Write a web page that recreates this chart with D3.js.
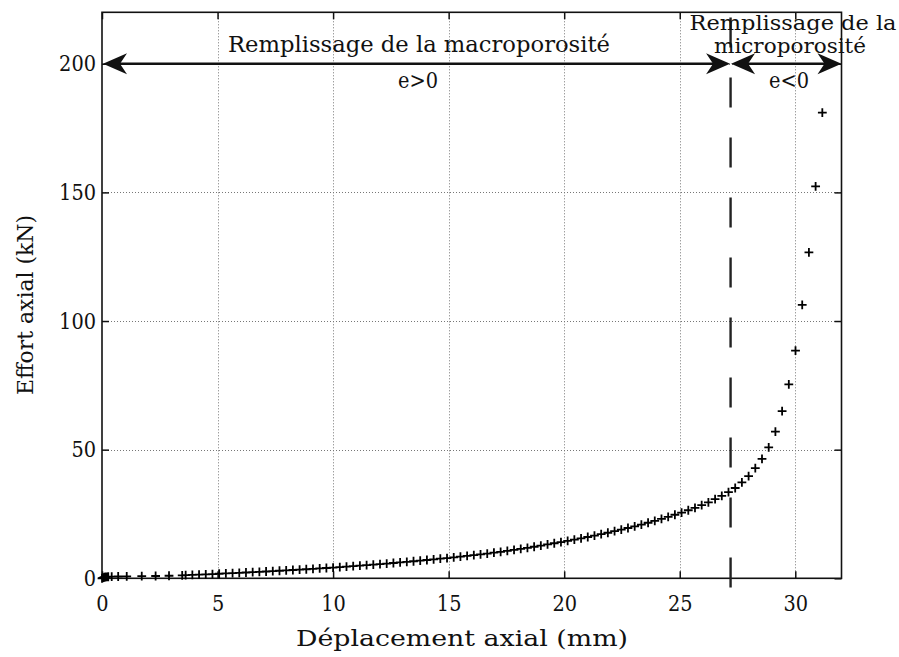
<!DOCTYPE html>
<html>
<head>
<meta charset="utf-8">
<script src="https://cdn.jsdelivr.net/npm/d3@7"></script>
<style>
  html, body { margin: 0; padding: 0; background: #fff; }
  svg { display: block; }
  svg text { font-family: 'DejaVu Serif', 'Liberation Serif', serif; fill: #111; }
</style>
</head>
<body>
<svg id="chart" width="899" height="657"></svg>
<script>
// ---- data ----
const xTicks = [0, 5, 10, 15, 20, 25, 30];
const yTicks = [0, 50, 100, 150, 200];
const xTitle = "Déplacement axial (mm)";
const yTitle = "Effort axial (kN)";
const limitDisplacement = 27.2;   // boundary macro/micro porosity
const arrowForce = 200;

const displacement = [
  0, 0.03, 0.06, 0.10, 0.15, 0.20, 0.27, 0.42, 0.70, 1.07, 1.72, 2.32, 2.90, 3.47,
  3.62, 3.91, 4.20, 4.49, 4.78, 5.07, 5.36, 5.65, 5.94, 6.23,
  6.52, 6.81, 7.10, 7.39, 7.68, 7.97, 8.26, 8.55, 8.84, 9.13,
  9.42, 9.71, 10.00, 10.29, 10.58, 10.87, 11.16, 11.45, 11.74, 12.03,
  12.32, 12.61, 12.90, 13.19, 13.48, 13.77, 14.06, 14.35, 14.64, 14.93,
  15.22, 15.51, 15.80, 16.09, 16.38, 16.67, 16.96, 17.25, 17.54, 17.83,
  18.12, 18.41, 18.70, 18.99, 19.28, 19.57, 19.86, 20.15, 20.44, 20.73,
  21.02, 21.31, 21.60, 21.89, 22.18, 22.47, 22.76, 23.05, 23.34, 23.63,
  23.92, 24.21, 24.50, 24.79, 25.08, 25.37, 25.66, 25.95, 26.24, 26.53,
  26.82, 27.11, 27.40, 27.69, 27.98, 28.27, 28.56, 28.85, 29.14, 29.43,
  29.72, 30.01, 30.30, 30.59, 30.88, 31.17
];
const force = [
  0, 0.15, 0.30, 0.40, 0.50, 0.55, 0.60, 0.65, 0.70, 0.75, 0.85, 0.90, 1.00, 1.10,
  1.20, 1.31, 1.42, 1.53, 1.65, 1.77, 1.89, 2.01, 2.13, 2.26,
  2.39, 2.52, 2.65, 2.79, 2.93, 3.07, 3.22, 3.37, 3.52, 3.68,
  3.84, 4.00, 4.17, 4.35, 4.53, 4.72, 4.91, 5.11, 5.31, 5.52,
  5.73, 5.95, 6.17, 6.40, 6.63, 6.87, 7.11, 7.36, 7.61, 7.87,
  8.14, 8.41, 8.69, 8.99, 9.30, 9.62, 9.96, 10.31, 10.67, 11.05,
  11.44, 11.85, 12.27, 12.71, 13.16, 13.62, 14.09, 14.55, 15.05, 15.55,
  16.05, 16.60, 17.15, 17.70, 18.30, 18.90, 19.55, 20.20, 20.90, 21.60,
  22.35, 23.10, 23.90, 24.70, 25.55, 26.45, 27.40, 28.45, 29.55, 30.75,
  32.05, 33.50, 35.10, 37.30, 39.70, 42.80, 46.40, 50.90, 57.00, 65.00,
  75.40, 88.50, 106.30, 126.70, 152.30, 181.00
];

// ---- layout ----
const svg = d3.select("#chart");
const L = 102, R = 841.5, T = 12.3, B = 578.3;
const x = d3.scaleLinear().domain([0, 32]).range([L, R]);
const y = d3.scaleLinear().domain([0, 220]).range([B, T]);
const FS = 22;

// grid
const grid = svg.append("g").attr("stroke", "#777").attr("stroke-width", 1)
  .attr("stroke-dasharray", "1,2").attr("fill", "none");
xTicks.filter(d => d > 0).forEach(d => {
  grid.append("line").attr("x1", Math.round(x(d)) + 0.5).attr("x2", Math.round(x(d)) + 0.5)
    .attr("y1", T).attr("y2", B);
});
yTicks.filter(d => d > 0).forEach(d => {
  grid.append("line").attr("y1", Math.round(y(d)) + 0.5).attr("y2", Math.round(y(d)) + 0.5)
    .attr("x1", L).attr("x2", R);
});

// axes
const tk = 7;
const xAxis = svg.append("g").attr("transform", `translate(0,${B})`)
  .call(d3.axisBottom(x).tickValues(xTicks).tickFormat(d3.format("d")).tickSizeInner(-tk).tickSizeOuter(0).tickPadding(17));
const yAxis = svg.append("g").attr("transform", `translate(${L},0)`)
  .call(d3.axisLeft(y).tickValues(yTicks).tickFormat(d3.format("d")).tickSizeInner(-tk).tickSizeOuter(0).tickPadding(6));
const xTop = svg.append("g").attr("transform", `translate(0,${T})`)
  .call(d3.axisTop(x).tickValues(xTicks).tickFormat("").tickSizeInner(-tk).tickSizeOuter(0));
const yRight = svg.append("g").attr("transform", `translate(${R},0)`)
  .call(d3.axisRight(y).tickValues(yTicks).tickFormat("").tickSizeInner(-tk).tickSizeOuter(0));
[xAxis, yAxis, xTop, yRight].forEach(g => {
  g.attr("font-family", null);
  g.select(".domain").remove();
  g.selectAll("line").attr("stroke", "#111").attr("stroke-width", 1.5);
  g.selectAll("text").attr("font-size", FS).attr("fill", "#111")
    .attr("textLength", function () { return this.textContent.length * 12.3; })
    .attr("lengthAdjust", "spacingAndGlyphs");
});
// box
svg.append("rect").attr("x", L).attr("y", T).attr("width", R - L).attr("height", B - T)
  .attr("fill", "none").attr("stroke", "#111").attr("stroke-width", 1.6);

// axis titles
svg.append("text").attr("x", 462).attr("y", 646).attr("text-anchor", "middle")
  .attr("font-size", FS).attr("textLength", 332).attr("lengthAdjust", "spacingAndGlyphs").text(xTitle);
svg.append("text").attr("transform", "translate(33,305) rotate(-90)").attr("text-anchor", "middle")
  .attr("font-size", FS).attr("textLength", 180).attr("lengthAdjust", "spacingAndGlyphs").text(yTitle);

// vertical dashed boundary line
svg.append("line")
  .attr("x1", x(limitDisplacement)).attr("x2", x(limitDisplacement))
  .attr("y1", y(218)).attr("y2", y(-4))
  .attr("stroke", "#222").attr("stroke-width", 2.4).attr("stroke-dasharray", "30,30");

// data markers (+)
const pts = d3.zip(displacement, force);
const ms = 4.4;
svg.append("path")
  .attr("d", pts.map(([dx, fy]) => {
    const px = x(dx), py = y(fy);
    return `M${px - ms},${py}H${px + ms}M${px},${py - ms}V${py + ms}`;
  }).join(""))
  .attr("stroke", "#000").attr("stroke-width", 1.8).attr("fill", "none");

// arrows
function arrowHead(tipX, tipY, dir) {
  const len = 24, half = 10.5, notch = 17;
  const p = [[tipX, tipY], [tipX - dir * len, tipY - half], [tipX - dir * notch, tipY], [tipX - dir * len, tipY + half]];
  svg.append("path").attr("d", "M" + p.map(q => q.join(",")).join("L") + "Z").attr("fill", "#111");
}
function doubleArrow(x0, x1, yy) {
  svg.append("line").attr("x1", x0 + 10).attr("x2", x1 - 10).attr("y1", yy).attr("y2", yy)
    .attr("stroke", "#111").attr("stroke-width", 2.6);
  arrowHead(x0, yy, -1);
  arrowHead(x1, yy, 1);
}
const ay = y(arrowForce);
doubleArrow(x(0) + 1, x(limitDisplacement) - 0.5, ay);
doubleArrow(x(limitDisplacement) + 0.5, R, ay);

// annotations
const ann = svg.append("g").attr("font-size", FS).attr("text-anchor", "middle");
ann.append("text").attr("x", 419).attr("y", 52).attr("textLength", 382).attr("lengthAdjust", "spacingAndGlyphs")
  .text("Remplissage de la macroporosité");
ann.append("text").attr("x", 418).attr("y", 88).attr("textLength", 40).attr("lengthAdjust", "spacingAndGlyphs").text("e>0");
ann.append("text").attr("x", 793).attr("y", 30).attr("font-size", 21).attr("textLength", 207).attr("lengthAdjust", "spacingAndGlyphs")
  .text("Remplissage de la");
ann.append("text").attr("x", 790).attr("y", 53).attr("font-size", 21).attr("textLength", 152).attr("lengthAdjust", "spacingAndGlyphs")
  .text("microporosité");
ann.append("text").attr("x", 789).attr("y", 88).attr("textLength", 40).attr("lengthAdjust", "spacingAndGlyphs").text("e<0");
</script>
</body>
</html>
